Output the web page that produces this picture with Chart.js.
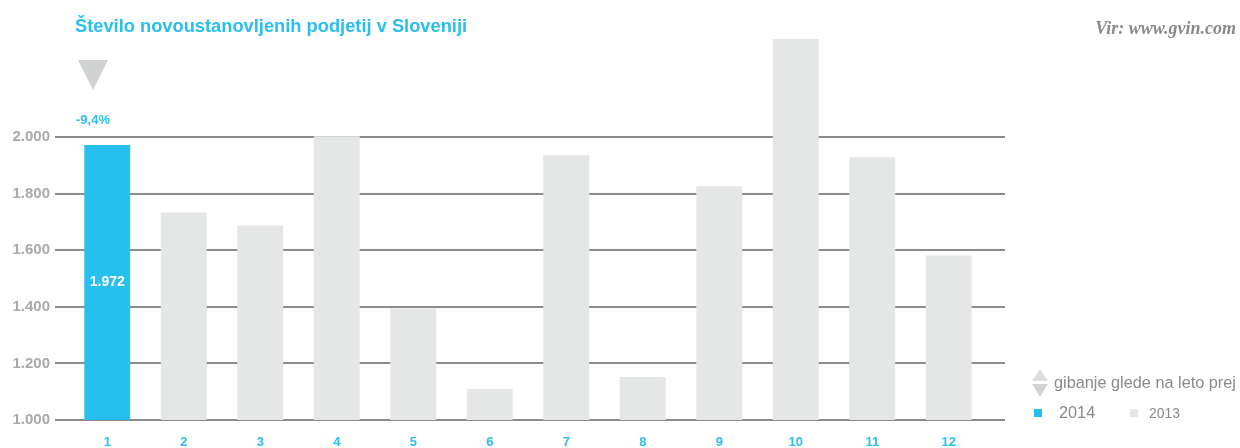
<!DOCTYPE html>
<html>
<head>
<meta charset="utf-8">
<script src="https://cdn.jsdelivr.net/npm/chart.js@4"></script>
<style>
  body { margin:0; background:#fff; font-family:"Liberation Sans", Arial, sans-serif; }
  #wrap { position:relative; width:1240px; height:448px; }
  .abs { position:absolute; white-space:nowrap; }
  #title { left:75px; top:15px; font-size:18.3px; font-weight:bold; color:#29bfee; }
  #src { right:4px; top:18px; font-family:"Liberation Serif", serif; font-style:italic; font-weight:bold; font-size:18px; color:#8a8a8a; }
  #chg { left:76px; top:112px; font-size:13px; font-weight:bold; color:#29bfee; }
  .lg { color:#8a8a8a; font-size:16.3px; }
  .sq { position:absolute; width:8px; height:8px; }
</style>
</head>
<body>
<div id="wrap">
  <canvas id="c" width="1240" height="448"></canvas>
  <div id="title" class="abs">Število novoustanovljenih podjetij v Sloveniji</div>
  <div id="src" class="abs">Vir: www.gvin.com</div>
  <svg class="abs" style="left:78px;top:60px" width="31" height="31"><polygon points="0,0 30,0 15,30" fill="#d0d2d4"/></svg>
  <div id="chg" class="abs">-9,4%</div>
  <svg class="abs" style="left:1032px;top:369px" width="17" height="29"><polygon points="8,0 16,12 0,12" fill="#dcdddf"/><polygon points="0,15 16,15 8,28" fill="#cfd1d3"/></svg>
  <div class="abs lg" style="left:1054px;top:373px">gibanje glede na leto prej</div>
  <div class="sq" style="left:1034px;top:409px;background:#27bfee"></div>
  <div class="abs lg" style="left:1059px;top:403px">2014</div>
  <div class="sq" style="left:1130px;top:409px;background:#e5e6e6"></div>
  <div class="abs lg" style="left:1149px;top:405px;font-size:13.9px">2013</div>
</div>
<script>
const months = ['1','2','3','4','5','6','7','8','9','10','11','12'];
const y2014 = [1972, null, null, null, null, null, null, null, null, null, null, null];
const y2013 = [null, 1734, 1688, 2003, 1394, 1110, 1936, 1152, 1826, 2347, 1929, 1582];
const yTicks = [1000, 1200, 1400, 1600, 1800, 2000];

const fmt = v => String(v).replace(/\B(?=(\d{3})+(?!\d))/g, '.');

// gridlines run wider than the plot area, so draw them by hand
const gridPlugin = {
    id: 'grid',
    beforeDatasetsDraw(ch) {
        const c = ch.ctx, y = ch.scales.y;
        c.save();
        c.strokeStyle = '#8c8c8c';
        c.lineWidth = 2;
        yTicks.forEach(t => {
            const p = Math.round(y.getPixelForValue(t));
            c.beginPath(); c.moveTo(55, p); c.lineTo(1005, p); c.stroke();
        });
        c.restore();
    },
    afterDatasetsDraw(ch) {
        const c = ch.ctx, y = ch.scales.y;
        const bx = ch.scales.x.getPixelForValue(0);
        const mid = (y.getPixelForValue(y2014[0]) + y.getPixelForValue(y.min)) / 2;
        c.save();
        c.fillStyle = '#fff';
        c.font = 'bold 14px "Liberation Sans", Arial, sans-serif';
        c.textAlign = 'center'; c.textBaseline = 'middle';
        c.fillText(fmt(y2014[0]), bx, mid);
        c.restore();
    }
};

new Chart(document.getElementById('c'), {
    type: 'bar',
    data: {
        labels: months,
        datasets: [
            { label: '2014', data: y2014, backgroundColor: '#27bfee' },
            { label: '2013', data: y2013, backgroundColor: '#e5e6e6' }
        ]
    },
    options: {
        responsive: false,
        animation: false,
        skipNull: true,
        categoryPercentage: 1,
        barPercentage: 0.6,
        layout: { padding: { left: 0, right: 253, top: 24, bottom: 0 } },
        plugins: { legend: { display: false }, tooltip: { enabled: false } },
        scales: {
            x: {
                grid: { display: false }, border: { display: false },
                ticks: { color: '#29bfee', padding: 7, font: { size: 13, weight: 'bold', family: '"Liberation Sans", Arial' } },
                afterFit: s => { s.height = 28; }
            },
            y: {
                min: 1000, max: 2400,
                grid: { display: false, drawTicks: false }, border: { display: false },
                afterBuildTicks: s => { s.ticks = yTicks.map(v => ({ value: v })); },
                ticks: { color: '#a9a9a9', padding: 19, callback: v => fmt(v), font: { size: 15, weight: 'bold', family: '"Liberation Sans", Arial' } },
                afterFit: s => { s.width = 69; s.paddingTop = 0; s.paddingBottom = 0; }
            }
        }
    },
    plugins: [gridPlugin]
});
</script>
</body>
</html>
